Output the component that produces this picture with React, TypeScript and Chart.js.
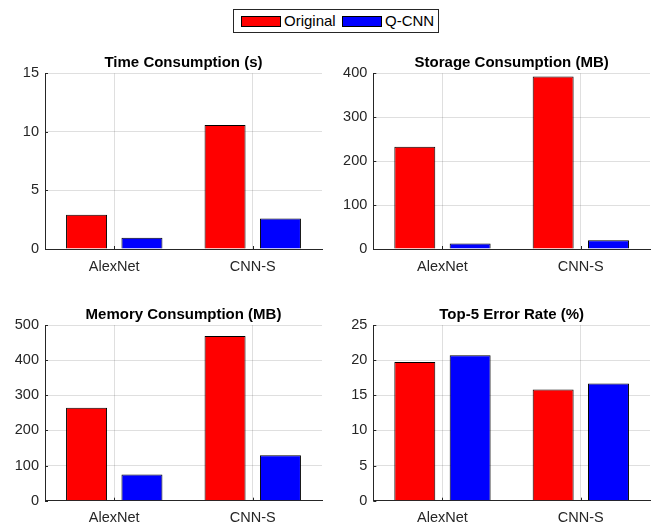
import React, { useEffect, useRef } from "react";
import { Chart, registerables } from "chart.js";
Chart.register(...registerables);

const categories = ["AlexNet", "CNN-S"];
const seriesNames = ["Original", "Q-CNN"];
const timeOriginal = [2.93, 10.58];
const timeQCNN = [0.95, 2.61];
const storageOriginal = [232.56, 392.57];
const storageQCNN = [12.6, 20.13];
const memoryOriginal = [264.74, 468.9];
const memoryQCNN = [74.65, 129.49];
const errorOriginal = [19.74, 15.82];
const errorQCNN = [20.7, 16.68];
const panelTitles = [
  "Time Consumption (s)",
  "Storage Consumption (MB)",
  "Memory Consumption (MB)",
  "Top-5 Error Rate (%)",
];
const yMaxes = [15, 400, 500, 25];
const ySteps = [5, 100, 100, 5];

const FONT = "'Liberation Sans', Arial, Helvetica, sans-serif";
const AXIS = "#262626";
const GRID = "rgba(38,38,38,0.15)";

const panels = [
  { orig: timeOriginal, q: timeQCNN, left: 0, top: 40, w: 326, h: 250, pad: { left: 0, right: 4, top: 15, bottom: 11 }, tb: 3.3, xh: 30 },
  { orig: storageOriginal, q: storageQCNN, left: 326, top: 40, w: 326, h: 250, pad: { left: 2.3, right: 2, top: 15, bottom: 11 }, tb: 3.3, xh: 30 },
  { orig: memoryOriginal, q: memoryQCNN, left: 0, top: 290, w: 326, h: 235, pad: { left: 0, right: 4, top: 17.5, bottom: 0 }, tb: 2.5, xh: 24.3 },
  { orig: errorOriginal, q: errorQCNN, left: 326, top: 290, w: 326, h: 235, pad: { left: 2.3, right: 2, top: 17.5, bottom: 0 }, tb: 2.5, xh: 24.3 },
];

const innerTicks = {
  id: "innerTicks",
  afterDatasetsDraw(chart: any) {
    const { ctx, chartArea, scales } = chart;
    const x = scales.x;
    const y = scales.y;
    ctx.save();
    ctx.strokeStyle = AXIS;
    ctx.lineWidth = 1;
    ctx.beginPath();
    y.ticks.forEach((_t: any, i: number) => {
      const py = Math.round(y.getPixelForTick(i)) + 0.5;
      ctx.moveTo(chartArea.left, py);
      ctx.lineTo(chartArea.left + 3, py);
    });
    x.ticks.forEach((_t: any, i: number) => {
      const px = Math.round(x.getPixelForTick(i)) + 0.5;
      ctx.moveTo(px, chartArea.bottom);
      ctx.lineTo(px, chartArea.bottom - 3);
    });
    ctx.stroke();
    ctx.restore();
  },
};

function Panel({ idx }: { idx: number }) {
  const ref = useRef<HTMLCanvasElement | null>(null);
  const p = panels[idx];
  useEffect(() => {
    if (!ref.current) return;
    const tickFont = { family: FONT, size: 14.5 };
    const chart = new Chart(ref.current, {
      type: "bar",
      data: {
        labels: categories,
        datasets: [
          {
            label: seriesNames[0],
            data: p.orig,
            backgroundColor: "#ff0000",
            borderColor: "#000000",
            borderWidth: 1,
            categoryPercentage: 0.8,
            barPercentage: 0.74,
          },
          {
            label: seriesNames[1],
            data: p.q,
            backgroundColor: "#0000ff",
            borderColor: "#000000",
            borderWidth: 1,
            categoryPercentage: 0.8,
            barPercentage: 0.74,
          },
        ],
      },
      options: {
        animation: false,
        responsive: false,
        devicePixelRatio: 1,
        layout: { padding: p.pad },
        plugins: {
          legend: { display: false },
          tooltip: { enabled: false },
          title: {
            display: true,
            text: panelTitles[idx],
            fullSize: false,
            color: "#000000",
            font: { family: FONT, size: 15, weight: "bold", lineHeight: 1 },
            padding: { top: 0, bottom: p.tb },
          },
        },
        scales: {
          x: {
            grid: { offset: false, color: GRID, drawTicks: false },
            border: { color: AXIS, width: 1 },
            ticks: { font: tickFont, color: AXIS, padding: 9 },
            afterFit: (s: any) => {
              s.height = p.xh;
            },
          },
          y: {
            min: 0,
            max: yMaxes[idx],
            ticks: { stepSize: ySteps[idx], font: tickFont, color: AXIS, padding: 6 },
            grid: { color: GRID, drawTicks: false },
            border: { color: AXIS, width: 1 },
            afterFit: (s: any) => {
              s.width = 45;
            },
          },
        },
      } as any,
      plugins: [innerTicks],
    });
    return () => chart.destroy();
  }, []);
  return (
    <canvas
      ref={ref}
      width={p.w}
      height={p.h}
      style={{ position: "absolute", left: p.left, top: p.top, width: p.w, height: p.h }}
    />
  );
}

export default function App() {
  const patch = (color: string, left: number) => (
    <div
      style={{
        position: "absolute",
        left,
        top: 6,
        width: 40,
        height: 11,
        background: color,
        border: "1px solid #000",
        boxSizing: "border-box",
      }}
    />
  );
  const label = (text: string, left: number) => (
    <div
      style={{
        position: "absolute",
        left,
        top: 3,
        fontFamily: FONT,
        fontSize: 15,
        lineHeight: "15px",
        color: "#000",
        whiteSpace: "nowrap",
      }}
    >
      {text}
    </div>
  );
  return (
    <div style={{ position: "fixed", left: 0, top: 0, width: 652, height: 525, background: "#fff", overflow: "hidden" }}>
      <div
        style={{
          position: "absolute",
          left: 233,
          top: 9,
          width: 206,
          height: 24,
          border: `1px solid ${AXIS}`,
          boxSizing: "border-box",
          background: "#fff",
        }}
      >
        {patch("#ff0000", 7)}
        {label(seriesNames[0], 50)}
        {patch("#0000ff", 108)}
        {label(seriesNames[1], 151)}
      </div>
      {[0, 1, 2, 3].map((i) => (
        <Panel key={i} idx={i} />
      ))}
    </div>
  );
}
